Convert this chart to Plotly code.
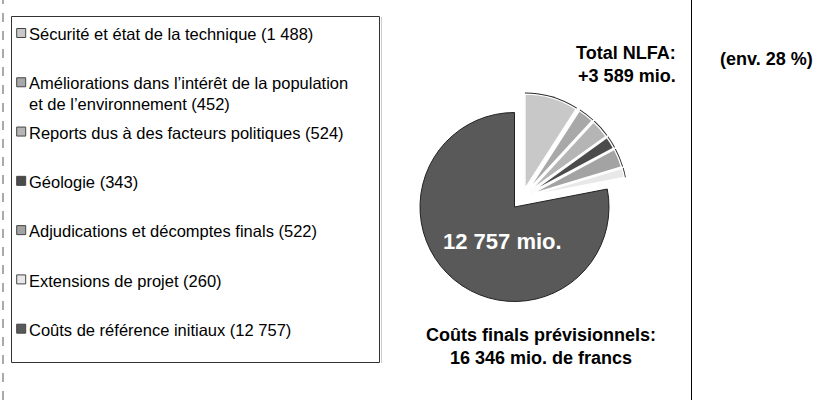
import textwrap
import plotly.graph_objects as go

# ---------------- data ----------------
categories = [
    "Sécurité et état de la technique",
    "Améliorations dans l’intérêt de la population et de l’environnement",
    "Reports dus à des facteurs politiques",
    "Géologie",
    "Adjudications et décomptes finals",
    "Extensions de projet",
    "Coûts de référence initiaux",
]
values = [1488, 452, 524, 343, 522, 260, 12757]
colors = ["#c8c8c8", "#a8a8a8", "#b5b5b5", "#4b4b4b", "#a3a3a3", "#e8e8e8", "#595959"]
base_index = 6  # the initial reference costs slice

# ---------------- helpers ----------------
def fmt(v):
    return f"{v:,}".replace(",", " ")

W, H = 817, 400
FONT = "Liberation Sans, Arial, sans-serif"
TRANSP = "rgba(0,0,0,0)"

n = len(values)
added = sum(v for i, v in enumerate(values) if i != base_index)
total = sum(values)
share = round(100 * added / values[base_index])

labels = [f"{c} ({fmt(v)})" for c, v in zip(categories, values)]
wrapped = ["<br>".join(textwrap.wrap(s, 45)) for s in labels]


def dom(cx, cy, r, maxpull=0.0):
    """pie domain (paper units) for a pie of radius r px centred at (cx, cy) px"""
    h = r * (1 + maxpull)
    return dict(x=[(cx - h) / W, (cx + h) / W], y=[1 - (cy + h) / H, 1 - (cy - h) / H])


R = 94.5                      # pie radius, px
C_BASE = (514.5, 207.0)       # centre of the base pie
C_EXPL = (522.3, 197.7)       # common offset of the exploded group
PULL_PX = 9.45                # extra individual explosion, px
OUTLINE = 1.6                 # px of dark rim around the exploded slices

small = [i != base_index for i in range(n)]

fig = go.Figure()

# base slice (not exploded)
fig.add_trace(go.Pie(
    values=values, labels=categories, sort=False, direction="clockwise", rotation=0,
    marker=dict(
        colors=[TRANSP if s else c for s, c in zip(small, colors)],
        line=dict(color=[TRANSP if s else "#222222" for s in small],
                  width=[0 if s else 1 for s in small]),
    ),
    textinfo="none", hoverinfo="label+value", showlegend=False,
    domain=dom(*C_BASE, R),
))

# dark rim under the exploded slices
r_u = R + OUTLINE
p_u = PULL_PX / r_u
fig.add_trace(go.Pie(
    values=values, labels=categories, sort=False, direction="clockwise", rotation=0,
    pull=[p_u if s else 0 for s in small],
    marker=dict(colors=["#2a2a2a" if s else TRANSP for s in small],
                line=dict(width=0)),
    textinfo="none", hoverinfo="skip", showlegend=False,
    domain=dom(*C_EXPL, r_u, p_u),
))

# exploded slices of the additional costs
p_b = PULL_PX / R
fig.add_trace(go.Pie(
    values=values, labels=categories, sort=False, direction="clockwise", rotation=0,
    pull=[p_b if s else 0 for s in small],
    marker=dict(
        colors=[c if s else TRANSP for s, c in zip(small, colors)],
        line=dict(color=["white" if s else TRANSP for s in small],
                  width=[1.4 if s else 0 for s in small]),
    ),
    textinfo="none", hoverinfo="label+value", showlegend=False,
    domain=dom(*C_EXPL, R, p_b),
))

# legend squares on a hidden categorical axis
fig.add_trace(go.Scatter(
    x=[0] * n, y=categories, mode="markers", cliponaxis=False,
    marker=dict(symbol="square", size=9, color=colors,
                line=dict(color="#444444", width=1)),
    hoverinfo="skip", showlegend=False,
))

annotations = []
for cat, txt in zip(categories, wrapped):
    annotations.append(dict(
        x=0, y=cat, xref="x", yref="y", text=txt, showarrow=False,
        xanchor="left", yanchor="top", align="left", xshift=6, yshift=9.8,
        font=dict(family=FONT, size=16.5, color="#000000"),
    ))

annotations += [
    dict(x=678 / W, y=1 - 64 / H, xref="paper", yref="paper",
         text=f"<b>Total NLFA:<br>+{fmt(added)} mio.</b>", showarrow=False,
         xanchor="right", yanchor="middle", align="right",
         font=dict(family=FONT, size=18, color="#000000")),
    dict(x=718 / W, y=1 - 58.5 / H, xref="paper", yref="paper",
         text=f"<b>(env. {share} %)</b>", showarrow=False,
         xanchor="left", yanchor="middle", align="left",
         font=dict(family=FONT, size=18, color="#000000")),
    dict(x=541 / W, y=1 - 346 / H, xref="paper", yref="paper",
         text=f"<b>Coûts finals prévisionnels:<br>{fmt(total)} mio. de francs</b>",
         showarrow=False, xanchor="center", yanchor="middle", align="center",
         font=dict(family=FONT, size=18, color="#000000")),
    dict(x=502.5 / W, y=1 - 241 / H, xref="paper", yref="paper",
         text=f"<b>{fmt(values[base_index])} mio.</b>", showarrow=False,
         xanchor="center", yanchor="middle",
         font=dict(family=FONT, size=22, color="#ffffff")),
]

shapes = [
    dict(type="line", xref="paper", yref="paper", x0=3 / W, x1=3 / W, y0=0, y1=1,
         line=dict(color="#555555", width=1, dash="dash")),
    dict(type="rect", xref="paper", yref="paper", x0=11.5 / W, x1=379.5 / W,
         y0=1 - 362.5 / H, y1=1 - 16.5 / H, line=dict(color="#333333", width=1)),
    dict(type="line", xref="paper", yref="paper", x0=381.5 / W, x1=381.5 / W,
         y0=1 - 363 / H, y1=1 - 17 / H, line=dict(color="#cccccc", width=1)),
    dict(type="line", xref="paper", yref="paper", x0=691.5 / W, x1=691.5 / W,
         y0=0, y1=1, line=dict(color="#000000", width=1)),
]

step = 49.28
first = 33.0
fig.update_layout(
    width=W, height=H, margin=dict(l=0, r=0, t=0, b=0),
    paper_bgcolor="white", plot_bgcolor="white",
    xaxis=dict(visible=False, range=[-21.2, W - 21.2], domain=[0, 1], fixedrange=True),
    yaxis=dict(visible=False, type="category", categoryorder="array",
               categoryarray=categories,
               range=[(H - first) / step, -first / step], domain=[0, 1], fixedrange=True),
    annotations=annotations, shapes=shapes, showlegend=False,
    font=dict(family=FONT),
)

fig.write_html(
    "out.html",
    config={"displayModeBar": False},
    post_script="document.body.style.margin='0';document.body.style.overflow='hidden';",
)
